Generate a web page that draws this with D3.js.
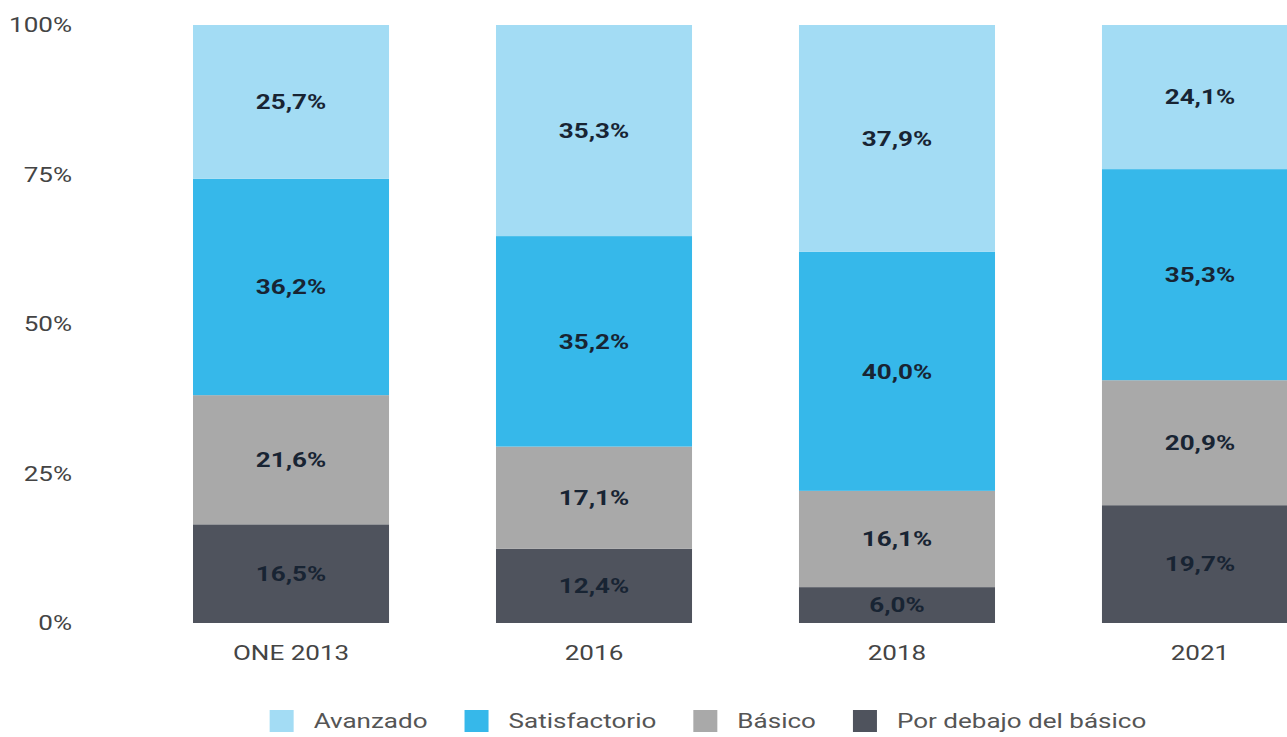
<!DOCTYPE html>
<html>
<head>
<meta charset="utf-8">
<script src="https://cdn.jsdelivr.net/npm/d3@7"></script>
<style>
  html, body { margin: 0; padding: 0; background: #fff; }
  svg { display: block; font-family: Roboto, "Noto Sans", sans-serif; }
</style>
</head>
<body>
<svg id="chart" width="1287" height="737"></svg>
<script>
const categories = ["ONE 2013", "2016", "2018", "2021"];
const seriesNames = ["Por debajo del básico", "Básico", "Satisfactorio", "Avanzado"];
const porDebajo = [16.5, 12.4, 6.0, 19.7];
const basico = [21.6, 17.1, 16.1, 20.9];
const satisfactorio = [36.2, 35.2, 40.0, 35.3];
const avanzado = [25.7, 35.3, 37.9, 24.1];
const yTicks = [0, 25, 50, 75, 100];
const legendOrder = ["Avanzado", "Satisfactorio", "Básico", "Por debajo del básico"];
const colors = {
  "Avanzado": "#a3dcf4",
  "Satisfactorio": "#36b8ea",
  "Básico": "#a9a9a9",
  "Por debajo del básico": "#4f535d"
};

const SX = 1.24; // horizontal stretch of text as in the reference
const FS = 21;

const rows = categories.map((c, i) => ({
  cat: c,
  "Por debajo del básico": porDebajo[i],
  "Básico": basico[i],
  "Satisfactorio": satisfactorio[i],
  "Avanzado": avanzado[i]
}));

const svg = d3.select("#chart");
const x = d3.scaleBand().domain(categories).range([193, 1298]).paddingInner(0.353).paddingOuter(0);
const y = d3.scaleLinear().domain([0, 100]).range([623, 25]);

const layers = d3.stack().keys(seriesNames)(rows);
const fmt = v => v.toFixed(1).replace(".", ",") + "%";

const g = svg.append("g");
layers.forEach(layer => {
  const key = layer.key;
  g.selectAll(null).data(layer).join("rect")
    .attr("x", d => x(d.data.cat))
    .attr("width", x.bandwidth())
    .attr("y", d => y(d[1]))
    .attr("height", d => y(d[0]) - y(d[1]))
    .attr("fill", colors[key]);
  g.selectAll(null).data(layer).join("text")
    .attr("transform", d => `translate(${x(d.data.cat) + x.bandwidth() / 2},${(y(d[0]) + y(d[1])) / 2}) scale(${SX},1)`)
    .attr("dy", "0.35em")
    .attr("text-anchor", "middle")
    .attr("font-size", FS)
    .attr("font-weight", 700)
    .attr("fill", "#182433")
    .text(d => fmt(d.data[key]));
});

// Y axis
const yAxis = d3.axisLeft(y).tickValues(yTicks).tickFormat(d => d + "%").tickSize(0).tickPadding(0);
const ya = svg.append("g").attr("transform", "translate(72,0)").call(yAxis);
ya.select(".domain").remove();
ya.selectAll("text").attr("font-size", FS).attr("fill", "#444")
  .attr("font-family", "Roboto, sans-serif").attr("transform", `scale(${SX},1)`);

// X axis
const xAxis = d3.axisBottom(x).tickSize(0).tickPadding(0);
const xa = svg.append("g").attr("transform", "translate(0,645)").call(xAxis);
xa.select(".domain").remove();
xa.selectAll("text").attr("font-size", FS).attr("fill", "#444")
  .attr("font-family", "Roboto, sans-serif").attr("transform", `scale(${SX},1)`);

// Legend
const leg = svg.append("g");
const sqW = 24, sqH = 22, gapText = 20, gapItem = 37;
let cx = 0;
legendOrder.forEach(name => {
  const it = leg.append("g").attr("transform", `translate(${cx},0)`);
  it.append("rect").attr("x", 0).attr("y", -sqH / 2).attr("width", sqW).attr("height", sqH).attr("fill", colors[name]);
  const t = it.append("text").attr("transform", `translate(${sqW + gapText},0) scale(${SX},1)`)
    .attr("dy", "0.35em").attr("font-size", FS).attr("fill", "#555").text(name);
  const w = sqW + gapText + t.node().getComputedTextLength() * SX;
  cx += w + gapItem;
});
const totalW = cx - gapItem;
leg.attr("transform", `translate(${708 - totalW / 2},721)`);
</script>
</body>
</html>
